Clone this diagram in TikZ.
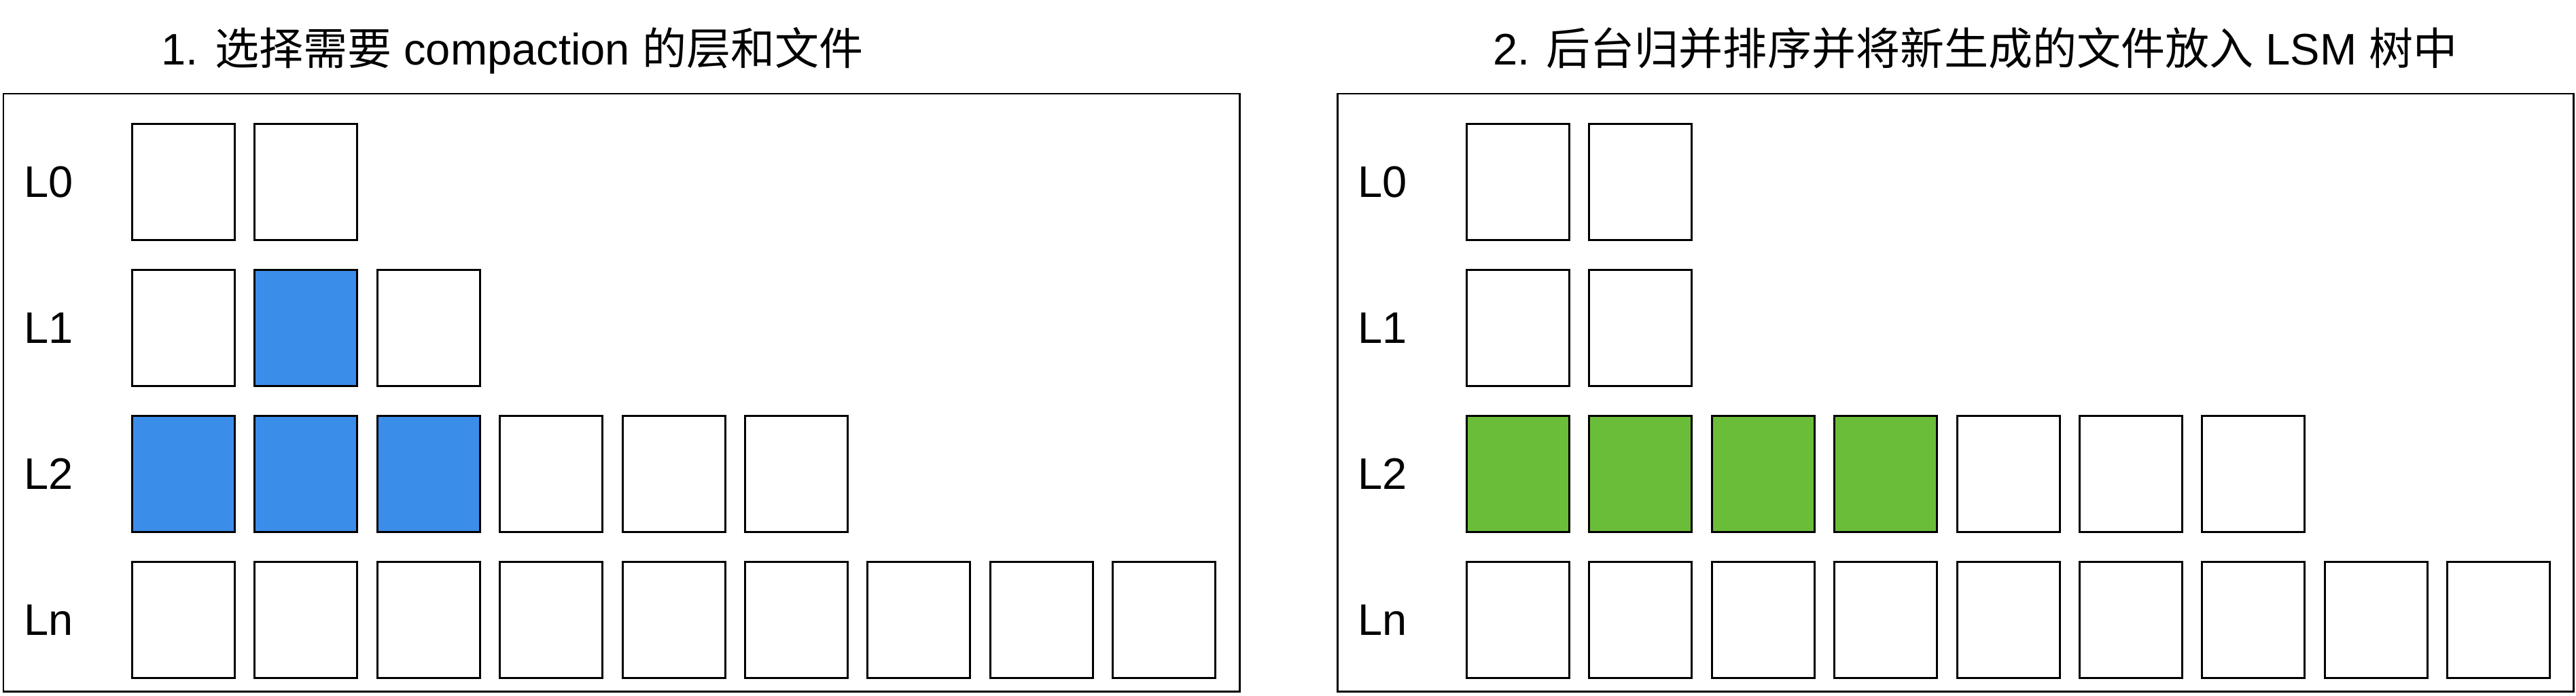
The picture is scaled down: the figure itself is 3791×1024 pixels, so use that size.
\documentclass[tikz,border=0pt]{standalone}
\usepackage{fontspec}
\setmainfont{Liberation Sans}
\newfontfamily\cjk{Noto Sans CJK SC}
\usepackage{xcolor}
\definecolor{pickblue}{RGB}{59,141,234}
\definecolor{mergegreen}{RGB}{106,189,56}
\tikzset{%
    sst/.style={draw, line width=0.85pt, minimum width=1.51cm, minimum height=1.70cm, inner sep=0pt},
    lvl/.style={anchor=west, inner sep=0pt},
    ttl/.style={anchor=base, inner sep=0pt}
}

\begin{document}
\begin{tikzpicture}[x=0.01cm, y=-0.01cm, font=\fontsize{18.5pt}{22pt}\selectfont]
    \useasboundingbox (0,0) rectangle (3791,1024);
    \node[ttl] (t1) at (754,95) {1. {\cjk 选择需要} compaction {\cjk 的层和文件}};
    \node[ttl] (t2) at (2907,95) {2. {\cjk 后台归并排序并将新生成的文件放入} LSM {\cjk 树中}};
    \draw[line width=0.85pt] (5,138) rectangle (1824,1018);
    \draw[line width=0.85pt] (1968,138) rectangle (3787,1018);
    \foreach \l [count=\r from 0] in {L0,L1,L2,Ln}
    {
    \node[lvl] (la\r) at (35,{268+215*\r}) {\l};
    \node[lvl] (lb\r) at (1998,{268+215*\r}) {\l};
    }
    \foreach \r/\n/\a/\b in {0/2/0/0, 1/3/2/2, 2/6/1/3, 3/9/0/0}
    {
    \foreach \c in {1,...,\n}
    {
    \ifnum\c<\a \def\col{white}\else\ifnum\c>\b \def\col{white}\else\def\col{pickblue}\fi\fi
    \node[sst, fill=\col] (a\r-\c) at ({270+180.4*(\c-1)},{268+215*\r}) {};
    }
    }
    \foreach \r/\n/\a/\b in {0/2/0/0, 1/2/0/0, 2/7/1/4, 3/9/0/0}
    {
    \foreach \c in {1,...,\n}
    {
    \ifnum\c<\a \def\col{white}\else\ifnum\c>\b \def\col{white}\else\def\col{mergegreen}\fi\fi
    \node[sst, fill=\col] (b\r-\c) at ({2234+180.4*(\c-1)},{268+215*\r}) {};
    }
    }
\end{tikzpicture}
\end{document}
